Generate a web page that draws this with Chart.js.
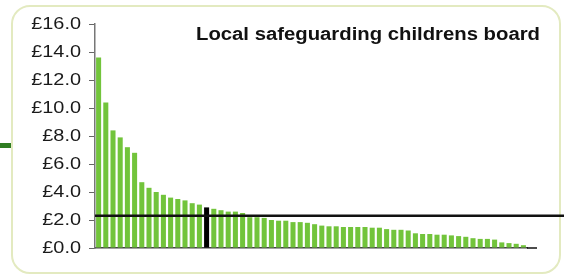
<!DOCTYPE html>
<html>
<head>
<meta charset="utf-8">
<style>
  html, body { margin: 0; padding: 0; background: #fff; }
  #wrap { width: 564px; height: 276px; position: relative; }
</style>
<script src="https://cdn.jsdelivr.net/npm/chart.js@4/dist/chart.umd.min.js"></script>
</head>
<body>
<div id="wrap"><canvas id="chart" width="564" height="276"></canvas></div>
<script>
// cost per head, one bar per authority (sorted high to low)
var costValues = [
  13.6, 10.4, 8.4, 7.9, 7.2, 6.8, 4.7, 4.3, 4.0, 3.8,
  3.6, 3.5, 3.4, 3.2, 3.1, 2.9, 2.8, 2.7, 2.6, 2.6,
  2.5, 2.2, 2.2, 2.15, 2.0, 1.95, 1.95, 1.85, 1.85, 1.8,
  1.7, 1.6, 1.55, 1.55, 1.5, 1.5, 1.5, 1.5, 1.45, 1.45,
  1.35, 1.3, 1.3, 1.25, 1.05, 1.0, 1.0, 0.95, 0.95, 0.9,
  0.85, 0.8, 0.7, 0.65, 0.65, 0.6, 0.4, 0.35, 0.3, 0.2
];
var categories = costValues.map(function (v, i) { return 'LA ' + (i + 1); });
var highlightIndex = 15;
var averageValue = 2.3;
var chartTitle = 'Local safeguarding childrens board';
var yTicks = [0, 2, 4, 6, 8, 10, 12, 14, 16];

var barColors = costValues.map(function (v, i) {
    return i === highlightIndex ? '#000000' : '#72c43b';
});

// card frame behind the chart
var framePlugin = {
    id: 'frame',
    beforeDraw: function (chart) {
        var ctx = chart.ctx;
        ctx.save();
        ctx.fillStyle = '#2f7d22';
        ctx.fillRect(0, 143, 11, 5);
        ctx.strokeStyle = '#e3eac0';
        ctx.lineWidth = 2;
        ctx.beginPath();
        if (ctx.roundRect) {
            ctx.roundRect(12, 6, 548, 267, 18);
        } else {
            ctx.rect(12, 6, 548, 267);
        }
        ctx.stroke();
        ctx.restore();
    }
};

// the original's lettering is a bit wide, stretch the y labels sideways
var wideLabelsPlugin = {
    id: 'wideLabels',
    afterLayout: function (chart) {
        var scale = chart.scales.y;
        if (scale._wide) return;
        scale._wide = true;
        var orig = scale.drawLabels;
        scale.drawLabels = function (area) {
            var c = this.ctx;
            var rx = this.right - this.options.grid.tickLength - this.options.ticks.padding;
            c.save();
            c.translate(rx, 0);
            c.scale(1.17, 1);
            c.translate(-rx, 0);
            orig.call(this, area);
            c.restore();
        };
    }
};

// average line and title
var overlayPlugin = {
    id: 'overlay',
    afterDatasetsDraw: function (chart) {
        var ctx = chart.ctx;
        var area = chart.chartArea;
        var y = chart.scales.y.getPixelForValue(averageValue);
        ctx.save();
        ctx.strokeStyle = '#111';
        ctx.lineWidth = 1.5;
        ctx.beginPath();
        ctx.moveTo(area.right, area.bottom);
        ctx.lineTo(537, area.bottom);
        ctx.stroke();
        ctx.lineWidth = 2.5;
        ctx.beginPath();
        ctx.moveTo(area.left, y);
        ctx.lineTo(chart.width, y);
        ctx.stroke();
        ctx.fillStyle = '#111';
        ctx.font = 'bold 18px "Liberation Sans", Arial, sans-serif';
        ctx.textAlign = 'left';
        ctx.textBaseline = 'middle';
        var w = ctx.measureText(chartTitle).width;
        ctx.translate(196, 35);
        ctx.scale(344 / w, 1);
        ctx.fillText(chartTitle, 0, 0);
        ctx.restore();
    }
};

var ctx = document.getElementById('chart').getContext('2d');
new Chart(ctx, {
    type: 'bar',
    data: {
        labels: categories,
        datasets: [{
            data: costValues,
            backgroundColor: barColors,
            borderWidth: 0,
            barPercentage: 0.7,
            categoryPercentage: 1.0
        }]
    },
    options: {
        responsive: false,
        animation: false,
        layout: { padding: { left: 26, right: 37, top: 24, bottom: 28 } },
        plugins: {
            legend: { display: false },
            tooltip: { enabled: false }
        },
        scales: {
            x: {
                ticks: { display: false },
                grid: { display: false, drawTicks: false },
                border: { display: true, color: '#444', width: 1.5 }
            },
            y: {
                min: 0,
                max: 16,
                afterBuildTicks: function (scale) {
                    scale.ticks = yTicks.map(function (v) { return { value: v }; });
                },
                afterFit: function (scale) { scale.width = 69; },
                ticks: {
                    color: '#1a1a1a',
                    padding: 8,
                    font: { family: '"Liberation Sans", Arial, sans-serif', size: 17 },
                    callback: function (v) { return '\u00a3' + Number(v).toFixed(1); }
                },
                grid: { drawOnChartArea: false, tickLength: 6, color: '#666' },
                border: { display: true, color: '#777', width: 1.5 }
            }
        }
    },
    plugins: [framePlugin, wideLabelsPlugin, overlayPlugin]
});
</script>
</body>
</html>
